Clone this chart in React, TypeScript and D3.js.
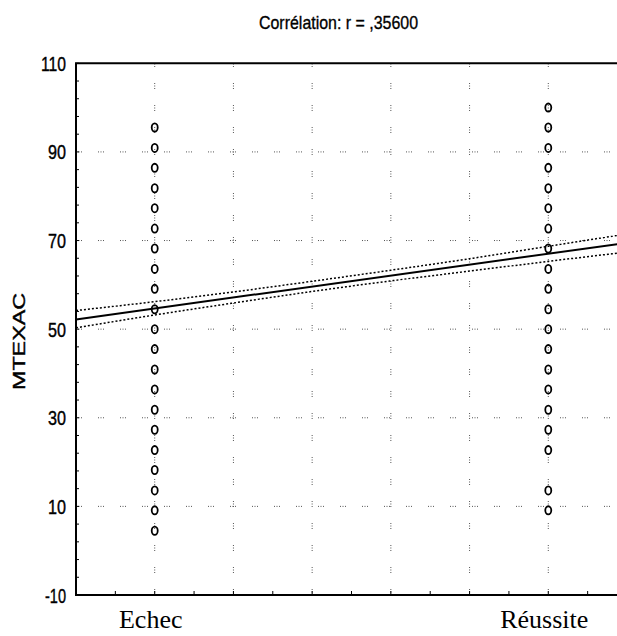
import * as d3 from "d3";

// category positions on the x axis (coded 0 / 1)
const categories = ["Echec", "Réussite"];
const categoryX = [0, 1];

// MTEXAC values, one circle each
const echecValues = [4.5, 9.1, 13.6, 18.2, 22.7, 27.3, 31.8, 36.4, 40.9, 45.5, 50.0, 54.5, 59.1, 63.6, 68.2, 72.7, 77.3, 81.8, 86.4, 90.9, 95.5];
const reussiteValues = [9.1, 13.6, 22.7, 27.3, 31.8, 36.4, 40.9, 45.5, 50.0, 54.5, 59.1, 63.6, 68.2, 72.7, 77.3, 81.8, 86.4, 90.9, 95.5, 100.0];

// fitted line and its confidence band
const fitX = [-0.2, 1.2];
const fitY = [52.2, 69.5];
const bandX = [-0.2, 0, 0.2, 0.4, 0.6, 0.8, 1.0, 1.2];
const bandUpper = [54.2, 56.2, 58.4, 60.8, 63.3, 65.9, 68.7, 71.5];
const bandLower = [50.3, 53.2, 55.9, 58.5, 60.9, 63.1, 65.3, 67.4];

const yTickLabels = [-10, 10, 30, 50, 70, 90, 110];
const xGrid = [0, 0.2, 0.4, 0.6, 0.8, 1.0];

const title = "Corrélation: r = ,35600";
const yTitle = "MTEXAC";

const width = 617;
const height = 636;
const narrow = "'Liberation Sans Narrow', 'Liberation Sans', Arial, sans-serif";

export default function App() {
  const x = d3.scaleLinear().domain([-0.2, 1.2]).range([76, 627]);
  const y = d3.scaleLinear().domain([-10, 110]).range([595, 63.3]);

  const lineGen = d3.line<number>().x((_, i) => x(fitX[i])).y(d => y(d));
  const bandGen = (vals: number[]) =>
    d3.line<number>().x((_, i) => x(bandX[i])).y(d => y(d)).curve(d3.curveMonotoneX)(vals) || "";

  const points = [
    ...echecValues.map(v => ({ cx: categoryX[0], v })),
    ...reussiteValues.map(v => ({ cx: categoryX[1], v })),
  ];

  const yMinor = d3.range(-10, 110.01, 4);
  const xMinor = d3.range(-0.2, 1.201, 0.1);
  const gridDash = "1,1.5,1,1.5,1,16";

  const [x0, x1] = x.range();
  const [yb, yt] = y.range();

  return (
    <div>
      <style>{`body{margin:0}`}</style>
      <svg width={width} height={height} style={{ display: "block", background: "#fff" }}>
        <text x={338.5} y={29} textAnchor="middle" fontFamily={narrow} fontSize={19}
          stroke="#000" strokeWidth={0.35}
          textLength={159} lengthAdjust="spacingAndGlyphs">{title}</text>

        {/* grid */}
        <g stroke="#555" strokeWidth={1} fill="none">
          {yTickLabels.filter(t => t > -10 && t < 110).map(t => (
            <line key={"h" + t} x1={x0} x2={x1} y1={y(t)} y2={y(t)} strokeDasharray={gridDash} />
          ))}
          {xGrid.map(t => (
            <line key={"v" + t} x1={x(t)} x2={x(t)} y1={yb} y2={yt} strokeDasharray={gridDash} />
          ))}
        </g>

        {/* ticks */}
        <g stroke="#000" strokeWidth={1}>
          {yMinor.map(t => (
            <line key={"yt" + t} x1={x0} x2={x0 + 3} y1={y(t)} y2={y(t)} />
          ))}
          {xMinor.map(t => (
            <line key={"xt" + t.toFixed(2)} x1={x(t)} x2={x(t)} y1={yb} y2={yb - 4} />
          ))}
        </g>

        {/* confidence band */}
        <g fill="none" stroke="#000" strokeWidth={1.5} strokeDasharray="2,2">
          <path d={bandGen(bandUpper)} />
          <path d={bandGen(bandLower)} />
        </g>
        <path d={lineGen(fitY) || ""} fill="none" stroke="#000" strokeWidth={2} />

        {/* points */}
        <g fill="none" stroke="#000" strokeWidth={1.8}>
          {points.map((p, i) => (
            <ellipse key={i} cx={x(p.cx)} cy={y(p.v)} rx={3.0} ry={4.1} />
          ))}
        </g>

        {/* frame */}
        <g stroke="#000" strokeWidth={2} fill="none">
          <line x1={x0} x2={x0} y1={yt} y2={yb + 1} />
          <line x1={x0 - 1} x2={x1} y1={yb} y2={yb} />
          <line x1={x0 - 1} x2={x1} y1={yt} y2={yt} />
        </g>

        {/* y tick labels */}
        {yTickLabels.map(t => {
          const s = String(t);
          const len = s === "110" ? 25 : s === "-10" ? 21 : 18;
          return (
            <text key={"yl" + t} x={66} y={y(t) + 7.5} textAnchor="end" fontFamily={narrow}
              fontSize={21} stroke="#000" strokeWidth={0.4}
              textLength={len} lengthAdjust="spacingAndGlyphs">{s}</text>
          );
        })}

        <text transform={`translate(25,341.5) rotate(-90)`} textAnchor="middle"
          fontFamily="'Liberation Sans', Arial, sans-serif" fontSize={17}
          stroke="#000" strokeWidth={0.4}
          textLength={97} lengthAdjust="spacingAndGlyphs">{yTitle}</text>

        {categories.map((c, i) => (
          <text key={c} x={x(categoryX[i]) - 4} y={628} textAnchor="middle"
            fontFamily="'Liberation Serif', 'Times New Roman', serif" fontSize={26}>{c}</text>
        ))}
      </svg>
    </div>
  );
}
